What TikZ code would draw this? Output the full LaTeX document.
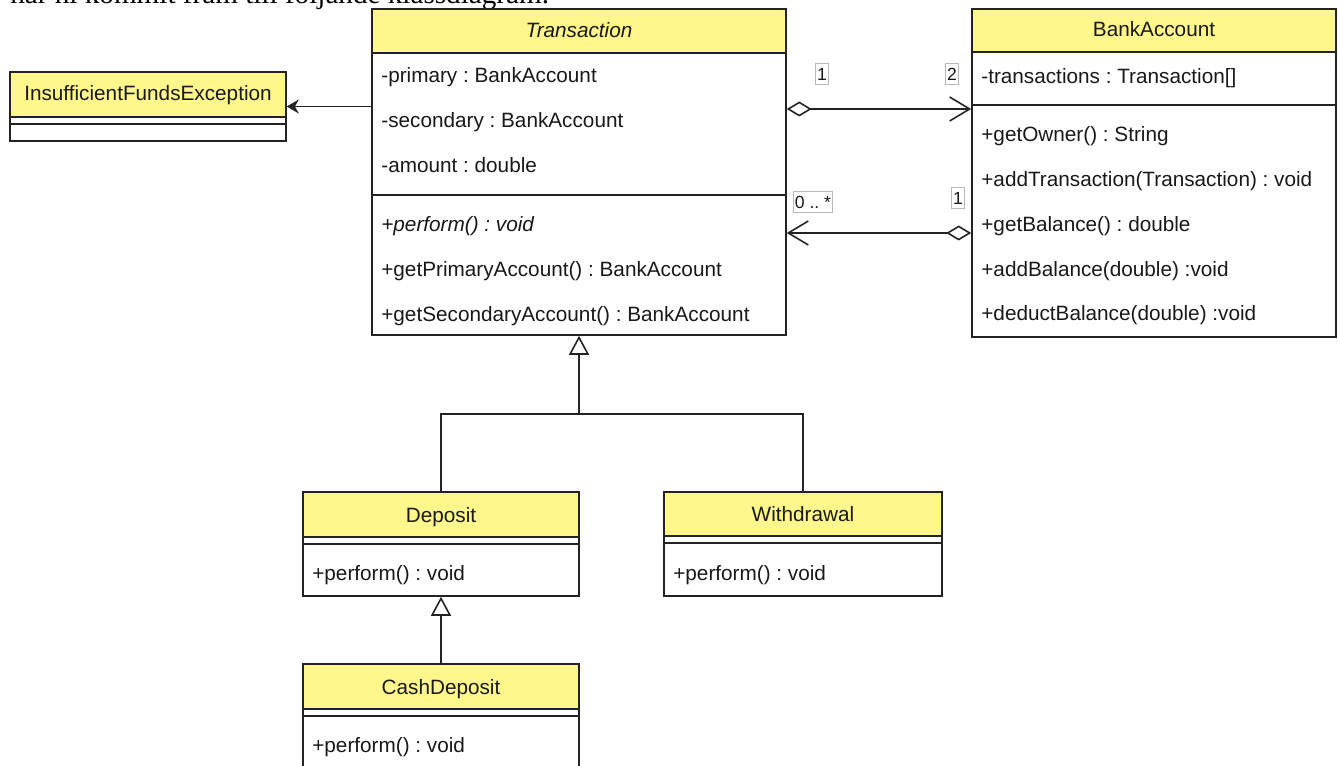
\documentclass[tikz,border=0pt]{standalone}
\usepackage{fontspec}
\newfontfamily\umlsans{Liberation Sans}
\newfontfamily\docserif{Liberation Serif}
\usetikzlibrary{arrows.meta,fit}
\frenchspacing
\definecolor{umlyellow}{RGB}{255,247,140}
\definecolor{umlline}{RGB}{35,35,35}
\definecolor{umltext}{RGB}{25,25,25}
\definecolor{tagline}{RGB}{185,185,185}
\tikzset{
  classbox/.style={draw=umlline,fill=white,line width=0.9pt,inner sep=0pt},
  classhead/.style={draw=umlline,fill=umlyellow,line width=0.9pt,inner sep=0pt},
  title/.style={inner sep=0pt,font=\umlsans\fontsize{11.8pt}{14pt}\selectfont,text=umltext},
  member/.style={anchor=base west,inner sep=0pt,
    font=\umlsans\fontsize{11.8pt}{14pt}\selectfont,text=umltext},
  sep/.style={draw=umlline,line width=0.9pt},
  tag/.style={draw=tagline,line width=0.4pt,fill=white,inner xsep=1pt,inner ysep=2.5pt,
    font=\umlsans\fontsize{10pt}{12pt}\selectfont,text=umltext},
  aggr/.style={draw=umlline,line width=0.9pt,
    {Diamond[open,fill=white,length=0.5cm,width=0.3cm]}-{Straight Barb[length=0.4cm,width=0.48cm]}},
  inherit/.style={draw=umlline,line width=0.9pt,
    -{Triangle[open,fill=white,length=0.38cm,width=0.4cm]}},
  raise/.style={draw=umlline,line width=0.9pt,-{Stealth[length=0.24cm,width=0.28cm]}},
  link/.style={draw=umlline,line width=0.9pt},
}
\begin{document}
\begin{tikzpicture}[x=0.02cm,y=-0.02cm]
  \useasboundingbox (0,0) rectangle (1338,766);
  \begin{scope}
  \clip (0,0) rectangle (1338,766);
  \node[anchor=base west,inner sep=0pt,font=\docserif\fontsize{16.6pt}{20pt}\selectfont] (intro) at (10,4)
    {har ni kommit fram till följande klassdiagram.};

  % Transaction
  \node[classbox,fit={(372,9)(786,335)}] (trans) {};
  \node[classhead,fit={(372,9)(786,53)}] (transH) {};
  \node[title,anchor=base] (transT) at (579,38) {\itshape Transaction};
  \draw[sep] (trans.west |- 0,195) -- (trans.east |- 0,195);
  \node[member] (tPrim) at (381,83) {-primary : BankAccount};
  \node[member] (tSec) at (381,128) {-secondary : BankAccount};
  \node[member] (tAmt) at (381,173) {-amount : double};
  \node[member,font=\umlsans\itshape\fontsize{11.8pt}{14pt}\selectfont] (tPerf) at (381,232) {+perform() : void};
  \node[member] (tGetP) at (381,277) {+getPrimaryAccount() : BankAccount};
  \node[member] (tGetS) at (381,322) {+getSecondaryAccount() : BankAccount};

  % InsufficientFundsException
  \node[classbox,fit={(10,72)(286,141)}] (insuf) {};
  \node[classhead,fit={(10,72)(286,117)}] (insufH) {};
  \node[title,anchor=base] (insufT) at (148,101) {InsufficientFundsException};
  \draw[sep] (insuf.west |- 0,124) -- (insuf.east |- 0,124);

  % BankAccount
  \node[classbox,fit={(972,9)(1336,337)}] (bank) {};
  \node[classhead,fit={(972,9)(1336,52)}] (bankH) {};
  \node[title,anchor=base] (bankT) at (1154,37) {BankAccount};
  \draw[sep] (bank.west |- 0,105) -- (bank.east |- 0,105);
  \node[member] (bTrans) at (981,84) {-transactions : Transaction[]};
  \node[member] (bOwner) at (981,142) {+getOwner() : String};
  \node[member] (bAddT) at (981,187) {+addTransaction(Transaction) : void};
  \node[member] (bBal) at (981,232) {+getBalance() : double};
  \node[member] (bAddB) at (981,277) {+addBalance(double) :void};
  \node[member] (bDed) at (981,321) {+deductBalance(double) :void};

  % Deposit, Withdrawal, CashDeposit
  \node[classbox,fit={(303,492)(579,596)}] (dep) {};
  \node[classhead,fit={(303,492)(579,537)}] (depH) {};
  \node[title,anchor=base] (depT) at (441,522) {Deposit};
  \draw[sep] (dep.west |- 0,544) -- (dep.east |- 0,544);
  \node[member] (dPerf) at (312,580) {+perform() : void};

  \node[classbox,fit={(664,492)(942,596)}] (wd) {};
  \node[classhead,fit={(664,492)(942,536)}] (wdH) {};
  \node[title,anchor=base] (wdT) at (803,521) {Withdrawal};
  \draw[sep] (wd.west |- 0,543) -- (wd.east |- 0,543);
  \node[member] (wPerf) at (673,580) {+perform() : void};

  \node[classbox,fit={(303,664)(579,790)}] (cash) {};
  \node[classhead,fit={(303,664)(579,709)}] (cashH) {};
  \node[title,anchor=base] (cashT) at (441,694) {CashDeposit};
  \draw[sep] (cash.west |- 0,716) -- (cash.east |- 0,716);
  \node[member] (cPerf) at (312,752) {+perform() : void};

  % connectors
  \draw[raise] (trans.west |- insuf) -- (insuf.east);
  \draw[aggr] (trans.east |- 0,109) -- (bank.west |- 0,109);
  \draw[aggr] (bank.west |- 0,233) -- (trans.east |- 0,233);
  \node[tag] (m1) at (822,74) {1};
  \node[tag] (m2) at (952,74) {2};
  \node[tag] (m3) at (813,202) {0 .. *};
  \node[tag] (m4) at (958,198) {1};

  \coordinate (fork) at (579,414);
  \draw[inherit] (fork) -- (trans.south);
  \draw[link] (dep.north) |- (fork) -| (wd.north);
  \draw[inherit] (cash.north) -- (dep.south);
  \end{scope}
\end{tikzpicture}
\end{document}
